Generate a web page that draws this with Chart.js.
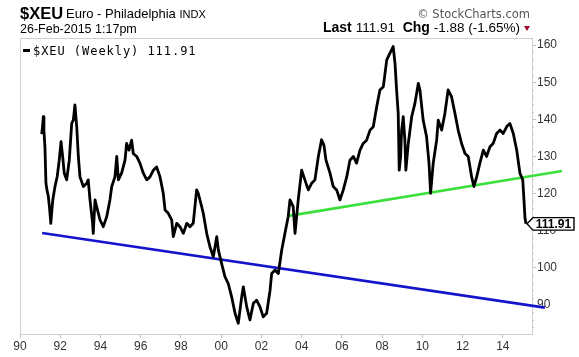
<!DOCTYPE html>
<html>
<head>
<meta charset="utf-8">
<script src="https://cdn.jsdelivr.net/npm/chart.js@4/dist/chart.umd.min.js"></script>
<style>
  html, body { margin:0; padding:0; background:#fff; }
  #wrap { position:relative; width:579px; height:357px; overflow:hidden; font-family:"Liberation Sans", Arial, sans-serif; }
  #c { position:absolute; left:0; top:0; }
  .t { position:absolute; white-space:nowrap; line-height:1; color:#000; }
</style>
</head>
<body>
<div id="wrap">
  <canvas id="c" width="579" height="357"></canvas>
  <div class="t" style="left:20px; top:4.5px; font-size:16.5px; font-weight:bold;">$XEU</div>
  <div class="t" style="left:66px; top:7.3px; font-size:13px;">Euro - Philadelphia <span style="font-size:11px;">INDX</span></div>
  <div class="t" style="left:20px; top:22.5px; font-size:12.5px;">26-Feb-2015 1:17pm</div>
  <div class="t" style="right:49px; top:8.5px; font-size:11.5px; color:#555; font-family:'DejaVu Sans', sans-serif;">© StockCharts.com</div>
  <div class="t" style="right:49px; top:20.3px; font-size:14px;"><b>Last</b> <span style="font-size:13.5px;">111.91</span>&nbsp; <b>Chg</b> <span style="font-size:13.5px;">-1.88 (-1.65%)</span> <span style="display:inline-block; width:0; height:0; border-left:3.5px solid transparent; border-right:3.5px solid transparent; border-top:5px solid #9e0a2e; vertical-align:1px;"></span></div>
  <div class="t" style="left:23px; top:49px; width:7px; height:2.5px; background:#000;"></div>
  <div class="t" style="left:33px; top:45px; font-size:12px; letter-spacing:0.95px; font-family:'DejaVu Sans Mono', monospace;">$XEU (Weekly) 111.91</div>
  <div class="t" id="lastTag" style="font-size:12px; font-weight:bold; text-align:center; width:41px;">111.91</div>
</div>
<script>
// ---- data ----
const weekDates = [1991.08,1991.12,1991.16,1991.19,1991.24,1991.29,1991.34,1991.41,1991.47,1991.53,1991.63,1991.74,1991.85,1991.95,1992.04,1992.12,1992.20,1992.32,1992.45,1992.57,1992.65,1992.73,1992.82,1992.90,1992.98,1993.15,1993.32,1993.39,1993.48,1993.61,1993.64,1993.73,1993.81,1993.98,1994.14,1994.31,1994.47,1994.56,1994.72,1994.81,1994.89,1995.05,1995.22,1995.30,1995.42,1995.55,1995.63,1995.80,1995.96,1996.13,1996.30,1996.46,1996.63,1996.79,1996.96,1997.12,1997.21,1997.37,1997.54,1997.62,1997.79,1997.95,1998.12,1998.29,1998.45,1998.61,1998.78,1998.86,1999.03,1999.11,1999.28,1999.44,1999.61,1999.78,1999.86,2000.02,2000.19,2000.35,2000.52,2000.69,2000.85,2001.02,2001.10,2001.27,2001.43,2001.60,2001.76,2001.93,2002.09,2002.26,2002.43,2002.51,2002.67,2002.84,2003.01,2003.17,2003.33,2003.42,2003.58,2003.67,2003.83,2004.00,2004.16,2004.33,2004.50,2004.66,2004.83,2004.99,2005.11,2005.21,2005.41,2005.57,2005.74,2005.90,2006.07,2006.24,2006.40,2006.57,2006.73,2006.90,2007.06,2007.23,2007.40,2007.56,2007.73,2007.89,2008.06,2008.23,2008.39,2008.55,2008.64,2008.72,2008.80,2008.85,2008.92,2008.97,2009.05,2009.13,2009.18,2009.30,2009.47,2009.63,2009.80,2009.88,2010.04,2010.21,2010.33,2010.41,2010.54,2010.71,2010.79,2010.96,2011.12,2011.28,2011.45,2011.62,2011.78,2011.95,2012.12,2012.28,2012.45,2012.56,2012.70,2012.86,2013.03,2013.19,2013.36,2013.52,2013.69,2013.86,2014.02,2014.19,2014.27,2014.35,2014.52,2014.69,2014.85,2014.99,2015.05,2015.10,2015.15];
const xeuValues = [136.0,138.0,140.7,137.0,132.6,122.8,121.0,119.2,116.0,112.0,118.3,121.9,124.6,129.0,134.0,130.0,125.5,123.7,129.0,138.9,139.8,143.9,138.0,130.0,124.5,121.9,122.8,123.7,118.3,112.0,109.3,118.3,116.5,112.9,111.1,113.8,118.3,121.9,124.5,130.0,123.7,125.5,129.0,133.5,131.7,134.4,130.8,130.0,128.2,125.5,123.7,124.5,126.3,127.2,124.5,120.1,115.6,114.7,112.9,108.4,112.0,111.1,109.3,112.0,111.1,112.0,121.0,120.1,116.5,114.7,109.3,105.7,103.0,108.4,104.8,101.2,97.6,95.8,92.2,87.8,85.1,92.2,94.9,89.5,86.0,90.5,91.3,89.5,86.8,87.8,94.0,98.5,99.4,98.5,104.8,109.3,113.8,118.3,116.5,109.3,118.3,126.3,123.7,121.0,122.8,123.7,130.0,134.5,133.0,129.0,125.5,121.9,121.0,118.3,121.0,124.5,129.0,130.0,128.2,131.7,133.5,134.4,137.1,138.0,143.4,147.9,148.8,156.0,157.8,159.6,155.1,147.9,141.6,126.3,130.0,137.1,140.7,134.4,126.3,133.5,140.7,144.3,149.7,147.9,139.8,135.3,128.2,120.1,128.2,134.4,139.8,137.1,141.6,147.9,146.1,141.6,137.1,133.5,130.8,130.0,124.5,121.9,124.5,128.2,131.7,130.0,132.6,133.5,136.2,137.1,136.2,138.0,138.5,138.9,136.2,131.7,125.5,123.7,118.3,113.5,111.91];
const greenTrendX = [2003.37, 2016.94];
const greenTrendY = [114.0, 126.1];
const blueTrendX = [1991.1, 2016.09];
const blueTrendY = [109.4, 89.3];
const xTickYears = [1990,1992,1994,1996,1998,2000,2002,2004,2006,2008,2010,2012,2014];
const xTickLabels = ['90','92','94','96','98','00','02','04','06','08','10','12','14'];
const yTickValues = [90,100,110,120,130,140,150,160];
const lastValue = 111.91;

const pts = (xs, ys) => xs.map((x, i) => ({ x: x, y: ys[i] }));

const framePlugin = {
  id: 'frame',
  beforeDatasetsDraw(chart) {
    const { ctx, chartArea: a } = chart;
    ctx.save();
    ctx.strokeStyle = '#cfcfcf';
    ctx.lineWidth = 1;
    ctx.strokeRect(a.left + 0.5, a.top + 0.5, a.right - a.left, a.bottom - a.top);
    const y = chart.scales.y;
    ctx.strokeStyle = '#c8c8c8';
    for (let v = 84; v <= 160; v += 2) {
      if (v % 10 === 0) continue;
      const py = Math.round(y.getPixelForValue(v)) + 0.5;
      ctx.beginPath(); ctx.moveTo(a.right, py); ctx.lineTo(a.right + 2, py); ctx.stroke();
    }
    ctx.restore();
  },
  afterDraw(chart) {
    const { ctx } = chart;
    const x = chart.scales.x.getPixelForValue(weekDates[weekDates.length - 1]) + 1;
    const y = chart.scales.y.getPixelForValue(lastValue);
    ctx.save();
    ctx.beginPath();
    ctx.moveTo(x, y);
    ctx.lineTo(x + 6, y - 6);
    ctx.lineTo(x + 47, y - 6);
    ctx.lineTo(x + 47, y + 6.5);
    ctx.lineTo(x + 6, y + 6.5);
    ctx.closePath();
    ctx.fillStyle = '#fff';
    ctx.fill();
    ctx.strokeStyle = '#000';
    ctx.lineWidth = 1.4;
    ctx.stroke();
    ctx.restore();
    const tag = document.getElementById('lastTag');
    tag.style.left = (x + 6) + 'px';
    tag.style.top = (y - 5.5) + 'px';
  }
};

Chart.defaults.font.family = '"Liberation Sans", Arial, sans-serif';

new Chart(document.getElementById('c'), {
  type: 'line',
  data: {
    datasets: [
      { label: '$XEU', data: pts(weekDates, xeuValues), borderColor: '#000', borderWidth: 2.8, pointRadius: 0, tension: 0, borderJoinStyle: 'round' },
      { label: 'green', data: pts(greenTrendX, greenTrendY), borderColor: '#3ce03c', borderWidth: 2.6, pointRadius: 0, clip: false },
      { label: 'blue', data: pts(blueTrendX, blueTrendY), borderColor: '#1414cc', borderWidth: 2.6, pointRadius: 0, clip: false }
    ]
  },
  options: {
    responsive: false,
    animation: false,
    devicePixelRatio: 1,
    layout: { padding: { left: 20, top: 38, right: 0, bottom: 0 } },
    plugins: { legend: { display: false }, tooltip: { enabled: false } },
    scales: {
      x: {
        type: 'linear', min: 1990, max: 2015.45,
        afterBuildTicks: (s) => { s.ticks = xTickYears.map(v => ({ value: v })); },
        afterFit: (s) => { s.height = 23; },
        ticks: { callback: (v) => xTickLabels[xTickYears.indexOf(v)], font: { size: 12 }, color: '#333', padding: 1, maxRotation: 0, autoSkip: false },
        grid: { drawOnChartArea: false, tickLength: 4, color: '#c0c0c0' },
        border: { color: '#cfcfcf' }
      },
      y: {
        position: 'right', min: 82.2, max: 161.9,
        afterBuildTicks: (s) => { s.ticks = yTickValues.map(v => ({ value: v })); },
        afterFit: (s) => { s.width = 47; },
        ticks: { font: { size: 12 }, color: '#333', padding: 1, autoSkip: false },
        grid: { drawOnChartArea: false, tickLength: 4, color: '#c0c0c0' },
        border: { color: '#cfcfcf' }
      }
    }
  },
  plugins: [framePlugin]
});
</script>
</body>
</html>
